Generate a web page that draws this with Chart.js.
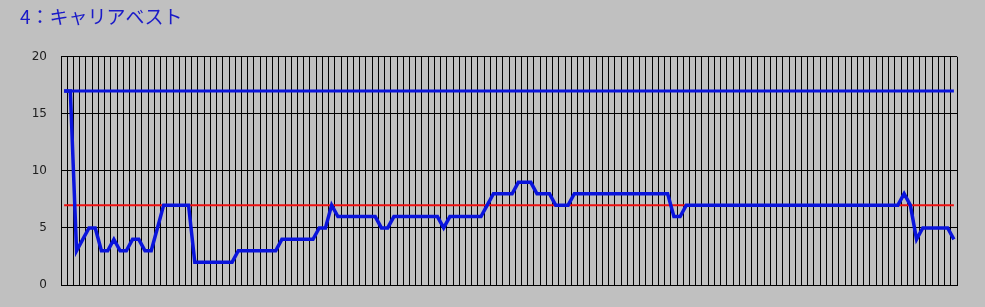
<!DOCTYPE html>
<html>
<head>
<meta charset="utf-8">
<script src="https://cdn.jsdelivr.net/npm/chart.js@4/dist/chart.umd.min.js"></script>
<style>
    body { margin: 0; background: #c0c0c0; }
    #wrap { width: 985px; height: 307px; position: relative; }
</style>
</head>
<body>
<div id="wrap"><canvas id="myChart"></canvas></div>
<script>
// 144 positions, no labels shown on the x axis
const categories = Array.from({ length: 144 }, (_, i) => String(i + 1));

// rank per position
const careerRank = [
    17, 17, 3, 4, 5, 5, 3, 3, 4, 3, 3, 4, 4, 3, 3, 5,
    7, 7, 7, 7, 7,
    2, 2, 2, 2, 2, 2, 2,
    3, 3, 3, 3, 3, 3, 3,
    4, 4, 4, 4, 4, 4,
    5, 5, 7,
    6, 6, 6, 6, 6, 6, 6,
    5, 5,
    6, 6, 6, 6, 6, 6, 6, 6,
    5,
    6, 6, 6, 6, 6, 6,
    7, 8, 8, 8, 8,
    9, 9, 9,
    8, 8, 8,
    7, 7, 7,
    8, 8, 8, 8, 8, 8, 8, 8, 8, 8, 8, 8, 8, 8, 8, 8,
    6, 6,
    7, 7, 7, 7, 7, 7, 7, 7, 7, 7, 7, 7, 7, 7, 7, 7, 7, 7, 7, 7,
    7, 7, 7, 7, 7, 7, 7, 7, 7, 7, 7, 7, 7, 7, 7,
    8, 7, 4, 5, 5, 5, 5, 5, 4
];

// reference levels
const bestLevel = 17;
const redLevel = 7;

const yTicks = [0, 5, 10, 15, 20];

document.addEventListener('DOMContentLoaded', () => {
    let ctx = document.getElementById('myChart').getContext('2d');
    new Chart(ctx, {
        type: 'line',
        data: {
            labels: categories,
            datasets: [
                {
                    label: 'rank',
                    data: careerRank,
                    borderColor: '#0a14dc',
                    borderWidth: 3.5,
                    pointRadius: 0,
                    tension: 0,
                    order: 0
                },
                {
                    label: 'best',
                    data: categories.map(() => bestLevel),
                    borderColor: '#0a14dc',
                    borderWidth: 3,
                    pointRadius: 0,
                    order: 1
                },
                {
                    label: 'line 7',
                    data: categories.map(() => redLevel),
                    borderColor: '#ee1111',
                    borderWidth: 2,
                    pointRadius: 0,
                    order: 2
                }
            ]
        },
        options: {
            responsive: true,
            maintainAspectRatio: false,
            animation: false,
            layout: {
                padding: { left: 20, right: 28, top: 0, bottom: 22 }
            },
            plugins: {
                legend: { display: false },
                tooltip: { enabled: false },
                title: {
                    display: true,
                    text: '4：キャリアベスト',
                    align: 'start',
                    color: '#1a1ac8',
                    font: { family: '"Noto Sans CJK JP"', size: 19, weight: 'normal' },
                    padding: { top: 5, bottom: 29 }
                }
            },
            scales: {
                x: {
                    offset: true,
                    grid: { offset: true, color: '#000', lineWidth: 1, drawTicks: false },
                    border: { color: '#000', width: 1 },
                    ticks: { display: false }
                },
                y: {
                    min: 0,
                    max: 20,
                    afterFit: (axis) => { axis.width = 41; },
                    afterBuildTicks: (axis) => { axis.ticks = yTicks.map(v => ({ value: v })); },
                    grid: { color: '#000', lineWidth: 1, drawTicks: false },
                    border: { color: '#000', width: 1 },
                    ticks: {
                        padding: 14,
                        color: '#202020',
                        font: { family: '"DejaVu Sans"', size: 12 }
                    }
                }
            }
        }
    });
});
</script>
</body>
</html>
